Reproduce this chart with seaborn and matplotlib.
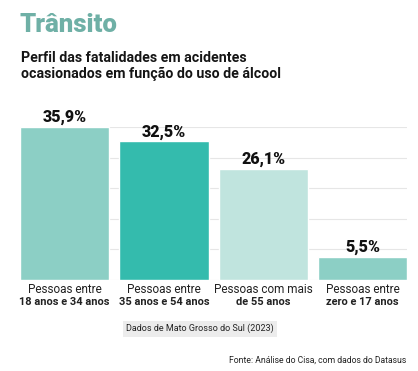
import numpy as np
import pandas as pd
import matplotlib
matplotlib.use("Agg")
import matplotlib.pyplot as plt
import seaborn as sns

# data
grupos = ["18-34", "35-54", "55+", "0-17"]
linha1 = ["Pessoas entre", "Pessoas entre", "Pessoas com mais", "Pessoas entre"]
linha2 = ["18 anos e 34 anos", "35 anos e 54 anos", "de 55 anos", "zero e 17 anos"]
valores = [35.9, 32.5, 26.1, 5.5]
rotulos = ["35,9%", "32,5%", "26,1%", "5,5%"]
cores = ["#8ccfc5", "#34bbad", "#c0e4de", "#8ccfc5"]

sns.set_style("white")
plt.rcParams["font.family"] = ["Roboto", "DejaVu Sans"]

df = pd.DataFrame({"grupo": grupos, "valor": valores})

fig = plt.figure(figsize=(4.18, 3.71), dpi=100)
ax = fig.add_axes([0.048, 0.245, 0.926, 0.413])

sns.barplot(data=df, x="grupo", y="valor", hue="grupo", palette=cores,
            width=0.9, legend=False, ax=ax, saturation=1, zorder=2)

ax.set_xlim(-0.45, 3.45)
ax.set_ylim(0, max(valores))
ax.set_yticks(np.linspace(0, max(valores), 6))
ax.yaxis.grid(True, color="#e6e6e6", linewidth=0.8, zorder=0)
ax.set_axisbelow(True)
ax.tick_params(left=False, bottom=False, labelleft=False, labelbottom=False)
ax.set_xlabel("")
ax.set_ylabel("")
sns.despine(ax=ax, left=True, bottom=True)

# value labels above bars
for i, (v, r) in enumerate(zip(valores, rotulos)):
    ax.text(i, v + 0.4, r, ha="center", va="bottom", fontsize=11.5,
            fontweight="heavy", color="#111111")

# two-line category labels (second line bolder)
for i in range(len(grupos)):
    ax.text(i, -2.1, linha1[i], ha="center", va="center", fontsize=8.5,
            color="#222222", clip_on=False)
    ax.text(i, -5.2, linha2[i], ha="center", va="center", fontsize=7.9,
            fontweight="semibold", color="#222222", clip_on=False)

fig.text(0.046, 0.933, "Trânsito", fontsize=18.5, fontweight="heavy",
         color="#6fb0a6", ha="left", va="center")
fig.text(0.05, 0.822, "Perfil das fatalidades em acidentes\nocasionados em função do uso de álcool",
         fontsize=10.2, fontweight="bold", color="#151515", ha="left", va="center",
         linespacing=1.1)

fig.text(0.478, 0.114, "Dados de Mato Grosso do Sul (2023)", fontsize=6.5,
         color="#222222", ha="center", va="center",
         bbox=dict(boxstyle="square,pad=0.35", facecolor="#ececec", edgecolor="none"))

fig.text(0.972, 0.016, "Fonte: Análise do Cisa, com dados do Datasus", fontsize=6.2,
         color="#222222", ha="right", va="bottom")

fig.savefig("out.png", dpi=100)
